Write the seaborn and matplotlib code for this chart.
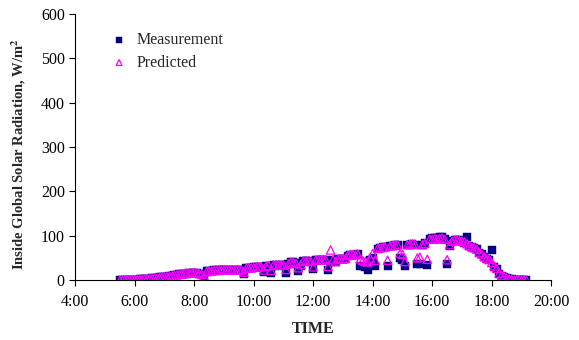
import numpy as np
import pandas as pd
import matplotlib
matplotlib.use("Agg")
import matplotlib.pyplot as plt
import seaborn as sns

# time grid: 5-minute samples from 5:30 to 19:10 (minutes after midnight)
start_min = 5 * 60 + 30
step_min = 5

measurement = [
    # 5:30-5:55
    0, 0, 0, 0, 1, 1,
    # 6:00-6:55
    1, 1, 2, 2, 2, 3, 3, 4, 4, 5, 6, 6,
    # 7:00-7:55
    7, 8, 9, 10, 11, 12, 13, 14, 15, 15, 16, 16,
    # 8:00-8:55
    16, 16, 15, 14, 7, 20, 21, 21, 22, 22, 22, 22,
    # 9:00-9:55
    22, 22, 23, 23, 23, 23, 23, 22, 14, 27, 27, 28,
    # 10:00-10:55
    29, 29, 30, 30, 18, 32, 33, 17, 34, 34, 33, 34,
    # 11:00-11:55
    34, 17, 36, 40, 40, 38, 21, 31, 43, 43, 43, 42,
    # 12:00-12:55
    25, 45, 45, 46, 46, 45, 23, 42, 45, 40, 47, 47,
    # 13:00-13:55
    47, 48, 55, 57, 57, 56, 58, 33, 31, 29, 24, 45,
    # 14:00-14:55
    51, 31, 70, 73, 74, 74, 33, 77, 78, 79, 80, 51,
    # 15:00-15:55
    45, 31, 79, 80, 81, 80, 36, 37, 80, 84, 34, 93,
    # 16:00-16:55
    94, 95, 96, 97, 98, 93, 36, 76, 88, 90, 91, 90,
    # 17:00-17:55
    88, 84, 97, 76, 74, 72, 70, 62, 58, 52, 48, 46,
    # 18:00-18:55
    68, 30, 26, 15, 10, 7, 5, 3, 2, 1, 1, 1,
    # 19:00-19:10
    0, 0, 0,
]

predicted = [
    0, 0, 0, 1, 1, 1,
    1, 2, 2, 2, 3, 3, 4, 4, 5, 5, 6, 7,
    7, 8, 9, 10, 11, 12, 13, 14, 15, 16, 16, 17,
    17, 16, 15, 13, 9, 19, 21, 21, 22, 22, 22, 23,
    23, 23, 23, 23, 23, 23, 23, 23, 18, 27, 27, 28,
    29, 29, 30, 30, 23, 32, 33, 22, 34, 34, 34, 34,
    34, 24, 37, 40, 40, 38, 28, 35, 43, 43, 44, 42,
    30, 45, 46, 46, 47, 46, 31, 68, 46, 42, 48, 48,
    48, 49, 56, 58, 58, 57, 59, 48, 44, 42, 41, 50,
    60, 45, 72, 73, 74, 75, 45, 77, 78, 79, 80, 60,
    58, 42, 80, 81, 82, 81, 50, 52, 80, 83, 47, 93,
    92, 93, 93, 94, 95, 92, 46, 80, 88, 90, 90, 89,
    88, 86, 82, 78, 75, 73, 70, 63, 59, 53, 49, 47,
    40, 32, 27, 16, 11, 8, 5, 3, 2, 1, 1, 1,
    0, 0, 0,
]

x_tick_hours = [4, 6, 8, 10, 12, 14, 16, 18, 20]
x_tick_labels = ["4:00", "6:00", "8:00", "10:00", "12:00", "14:00", "16:00", "18:00", "20:00"]
y_ticks = [0, 100, 200, 300, 400, 500, 600]

hours = (start_min + step_min * np.arange(len(measurement))) / 60.0
df = pd.DataFrame({"hour": hours, "Measurement": measurement, "Predicted": predicted})

sns.set_style("ticks")
plt.rcParams["font.family"] = ["Liberation Serif", "DejaVu Serif"]
plt.rcParams["mathtext.fontset"] = "stix"

fig = plt.figure(figsize=(5.79, 3.40), dpi=100)
ax = fig.add_axes([0.13, 0.176, 0.822, 0.783])

sns.scatterplot(data=df, x="hour", y="Measurement", ax=ax, marker="s", s=30,
                color="#000080", edgecolor="#000080", linewidth=0.3,
                label="Measurement", zorder=2)
sns.scatterplot(data=df, x="hour", y="Predicted", ax=ax, marker="^", s=36,
                facecolors="none", edgecolor="#FF00FF", linewidth=0.9,
                label="Predicted", zorder=3)

ax.set_xlim(4, 20)
ax.set_ylim(0, 600)
ax.set_xticks(x_tick_hours)
ax.set_xticklabels(x_tick_labels)
ax.set_yticks(y_ticks)
ax.tick_params(axis="both", labelsize=11.5, direction="out", length=4, width=0.8,
               colors="black")
ax.tick_params(axis="x", pad=6)
for sp in ["top", "right"]:
    ax.spines[sp].set_visible(False)
for sp in ["left", "bottom"]:
    ax.spines[sp].set_color("black")
    ax.spines[sp].set_linewidth(0.8)

ax.set_xlabel("TIME", fontsize=11.5, fontweight="bold", labelpad=8)
ax.set_ylabel(r"Inside Global Solar Radiation, W/m$^\mathbf{2}$", fontsize=10.5,
              fontweight="bold")
ax.yaxis.set_label_coords(-0.1, 0.475)

leg = ax.legend(loc="upper left", bbox_to_anchor=(0.045, 0.955), frameon=False,
                fontsize=11.5, handletextpad=0.1, borderaxespad=0, labelspacing=0.4,
                markerscale=0.7)

fig.savefig("out.png", dpi=100)
